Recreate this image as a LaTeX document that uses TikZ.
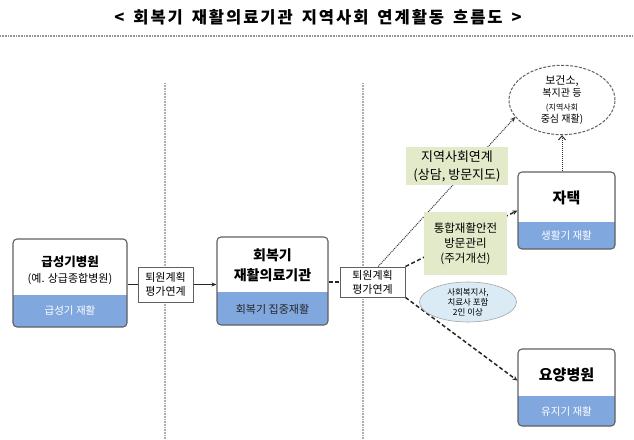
\documentclass[tikz,border=0pt]{standalone}
\usepackage{fontspec}
\setmainfont{Noto Sans CJK KR}
\usetikzlibrary{arrows.meta,shapes.geometric,backgrounds}
\definecolor{bandblue}{RGB}{128,167,222}
\definecolor{framegray}{RGB}{96,96,96}
\definecolor{linkgreen}{RGB}{226,234,201}
\definecolor{staffblue}{RGB}{218,235,245}
\definecolor{guidegray}{RGB}{175,175,175}

\begin{document}
\begin{tikzpicture}[x=1pt, y=-1pt,
  stage/.style={draw=framegray, line width=1.1pt, rounded corners=4pt, fill=bandblue, inner sep=0pt},
  band/.style={path picture={\fill[white, sharp corners] (path picture bounding box.north west) rectangle ([yshift=#1]path picture bounding box.south east);}},
  head/.style={inner sep=0pt, align=center, font=\bfseries\fontsize{13}{16}\selectfont},
  note/.style={inner sep=0pt, align=center, font=\fontsize{11}{13}\selectfont},
  bandtext/.style={inner sep=0pt, text=white, font=\fontsize{10.5}{12}\selectfont},
  plan/.style={draw=framegray, line width=0.9pt, fill=white, align=center, inner sep=0pt, font=\fontsize{11}{14}\selectfont},
  link/.style={fill=linkgreen, align=center, inner sep=0pt},
  staff/.style={ellipse, draw=gray!70, line width=0.6pt, fill=staffblue, align=center, inner sep=0pt, minimum width=97pt, minimum height=40pt, font=\fontsize{8.5}{10}\selectfont},
  place/.style={ellipse, draw=framegray, line width=1pt, dash pattern=on 3pt off 1.5pt, align=center, inner sep=0pt, minimum width=106pt, minimum height=64pt},
  solidlink/.style={draw=black!85, line width=1.1pt},
  dashlink/.style={draw=black!85, line width=1.5pt, dash pattern=on 4pt off 2.5pt, -{Stealth[length=5pt, width=4.5pt]}},
  dotlink/.style={draw=black!80, line width=1pt, dash pattern=on 1pt off 1pt},
  guide/.style={draw=guidegray, line width=1.2pt, dash pattern=on 0.8pt off 0.8pt}
]
  \useasboundingbox (0,0) rectangle (634,439);

  \node[font=\bfseries\fontsize{16.5}{18}\selectfont\addfontfeature{LetterSpace=12}\spaceskip 9pt] (title) at (318,17) {< 회복기 재활의료기관 지역사회 연계활동 흐름도 >};

  \node[stage, band=32pt, minimum width=114pt, minimum height=88pt] (acute) at (70,283) {};
  \node[head, font=\bfseries\fontsize{12.5}{15}\selectfont] (acute-name) at (70,262) {급성기병원};
  \node[note] (acute-eg) at (70,279) {(예. 상급종합병원)};
  \node[bandtext] (acute-band) at (70,311) {급성기 재활};

  \node[plan, minimum width=55pt, minimum height=35pt] (plan1) at (165.5,284.5) {퇴원계획\\평가연계};

  \node[stage, band=33pt, minimum width=111pt, minimum height=88pt] (recovery) at (272.5,281) {};
  \node[head, font=\bfseries\fontsize{14}{20}\selectfont] (recovery-name) at (272.5,265) {회복기\\재활의료기관};
  \node[bandtext, text=black!85, font=\fontsize{11}{12}\selectfont] (recovery-band) at (272.5,309) {회복기 집중재활};

  \node[plan, minimum width=65pt, minimum height=30pt] (plan2) at (372.5,282) {퇴원계획\\평가연계};

  \node[place] (community) at (562,100) {\fontsize{11}{11.5}\selectfont 보건소,\\ 복지관 등\\[2pt] \fontsize{8}{10}\selectfont (지역사회\\ 중심 재활)};

  \node[link, minimum width=102pt, minimum height=38pt, font=\fontsize{13}{18}\selectfont] (link1) at (457,166) {지역사회연계\\(상담, 방문지도)};
  \node[link, minimum width=83pt, minimum height=63pt, font=\fontsize{11.5}{15}\selectfont] (link2) at (465.5,243.5) {통합재활안전\\방문관리\\(주거개선)};
  \node[staff] (staff) at (468,302) {사회복지사,\\치료사 포함\\2인 이상};

  \node[stage, band=27pt, minimum width=97pt, minimum height=77pt] (home) at (566.5,210.5) {};
  \node[head, font=\bfseries\fontsize{15}{17}\selectfont] (home-name) at (566.5,198) {자택};
  \node[bandtext] (home-band) at (566.5,236) {생활기 재활};

  \node[stage, band=30pt, minimum width=97pt, minimum height=77pt] (care) at (566.5,387.5) {};
  \node[head, font=\bfseries\fontsize{15}{17}\selectfont] (care-name) at (566.5,375) {요양병원};
  \node[bandtext] (care-band) at (566.5,412) {유지기 재활};

  \begin{scope}[on background layer]
    \fill[white] (0,0) rectangle (634,439);
    \draw[guide, draw=gray!85] (0,36) -- (634,36);
    \draw[guide] (165,83) -- (165,439);
    \draw[guide] (363,83) -- (363,439);

    \draw[solidlink] (acute.east |- plan1.west) -- (plan1.west);
    \draw[solidlink, -{Stealth[length=5pt, width=4pt]}] (plan1.east) -- (plan1.east -| recovery.west);
    \draw[dashlink, -] (recovery.east |- plan2.west) -- (plan2.west);
    \draw[dotlink, -{Stealth[length=5pt, width=4.5pt]}] (plan2.70) -- (community.200);
    \draw[dashlink] (plan2.north east) -- (home.west);
    \draw[dashlink] (plan2.south east) -- (care.172);
    \draw[dotlink, -{Straight Barb[length=4pt, width=7pt]}] (home.north -| community.south) -- (community.south);
  \end{scope}
\end{tikzpicture}
\end{document}
